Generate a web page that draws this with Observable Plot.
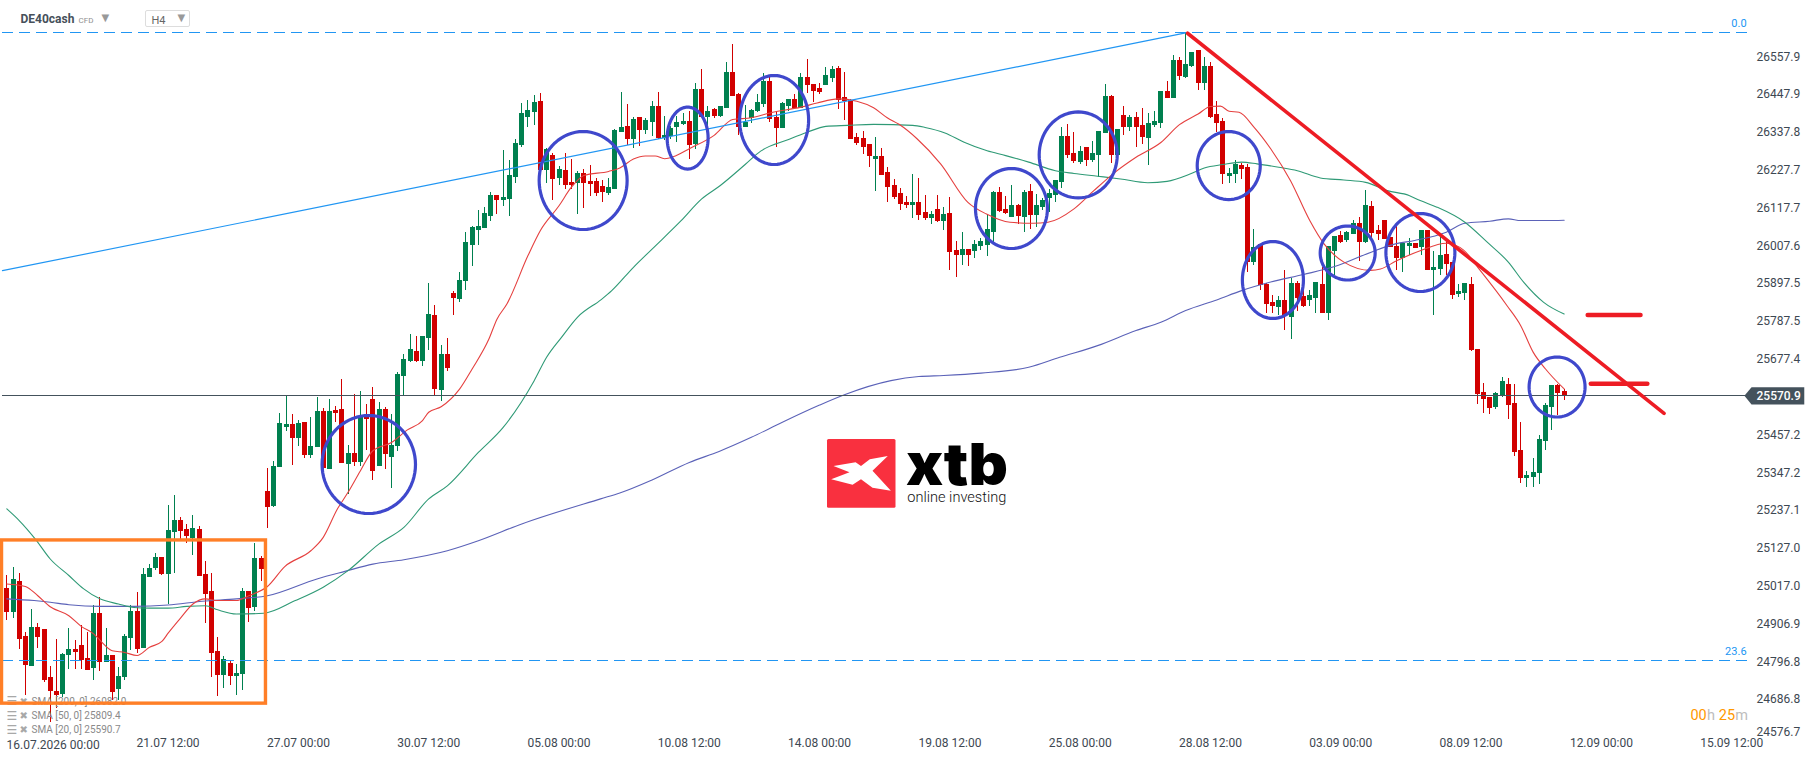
<!DOCTYPE html>
<html>
<head>
<meta charset="utf-8">
<script src="https://cdn.jsdelivr.net/npm/d3@7"></script>
<script src="https://cdn.jsdelivr.net/npm/@observablehq/plot@0.6"></script>
<style>
html,body{margin:0;padding:0;background:#fff;font-family:Roboto,sans-serif}
#wrap{position:relative;width:1816px;height:761px;overflow:hidden}
#wrap svg.main{display:block}
.abs{position:absolute}
</style>
</head>
<body>
<div id="wrap"></div>
<script>
const open = [
25009,24941,25030,24870,24783,24896,24890,24751,24710,24701,
24815,24832,24844,24806,24777,24937,24794,24815,24716,24751,
24864,24943,24835,25042,25068,25100,25050,25173,25208,25181,
25155,25181,25050,25001,24826,24757,24791,24754,24759,25001,
24954,25097,25292,25248,25363,25478,25487,25446,25493,25397,
25420,25525,25356,25528,25531,25370,25402,25376,25516,25560,
25365,25531,25391,25423,25627,25670,25699,25670,25737,25804,
25586,25691,25868,25851,25903,26008,26052,26057,26092,26153,
26139,26142,26206,26299,26380,26395,26427,26226,26270,26203,
26226,26191,26188,26217,26194,26194,26180,26159,26171,26337,
26354,26316,26380,26342,26366,26412,26320,26326,26352,26361,
26369,26302,26462,26381,26404,26384,26407,26512,26448,26352,
26378,26398,26419,26486,26381,26349,26413,26433,26407,26497,
26477,26465,26474,26494,26524,26439,26430,26323,26320,26302,
26259,26267,26221,26183,26160,26134,26125,26134,26104,26087,
26113,26078,26101,25993,25979,25996,25991,26005,26008,26046,
26162,26113,26090,26124,26090,26165,26095,26119,26145,26154,
26191,26325,26276,26250,26293,26255,26270,26334,26442,26270,
26386,26351,26381,26357,26319,26357,26363,26456,26436,26547,
26497,26529,26576,26480,26529,26389,26369,26209,26215,26241,
26235,25959,26011,25895,25842,25828,25848,25799,25898,25860,
25848,25854,25895,25810,25991,26037,26023,26040,26072,26017,
26122,26052,26081,26031,26005,25970,26005,26014,26002,26052,
25935,25938,25982,25959,25865,25868,25895,25705,25580,25566,
25537,25569,25604,25548,25411,25330,25333,25345,25438,25537,25601,25583];
const close = [
24941,25036,24861,24786,24896,24867,24742,24710,24698,24818,
24832,24823,24800,24771,24937,24794,24815,24707,24754,24870,
24943,24832,25050,25068,25100,25050,25178,25208,25176,25161,
25184,25045,24992,24821,24757,24803,24754,24762,25001,24952,
25097,25065,25245,25365,25490,25487,25446,25490,25397,25423,
25525,25359,25525,25519,25373,25402,25376,25507,25501,25350,
25531,25400,25426,25632,25676,25705,25670,25743,25807,25589,
25691,25650,25854,25906,26017,26060,26063,26101,26153,26139,
26148,26212,26305,26392,26401,26424,26226,26289,26200,26229,
26182,26182,26217,26188,26185,26159,26162,26177,26342,26351,
26316,26375,26342,26372,26412,26319,26329,26349,26366,26369,
26299,26462,26381,26398,26384,26413,26512,26442,26352,26366,
26401,26425,26486,26375,26349,26422,26433,26407,26497,26474,
26457,26454,26503,26521,26430,26427,26317,26305,26294,26267,
26267,26212,26177,26148,26128,26125,26134,26096,26087,26099,
26078,26098,25988,25979,25996,25979,26011,26020,26055,26162,
26107,26101,26124,26092,26162,26095,26124,26139,26159,26197,
26325,26270,26252,26282,26255,26276,26340,26442,26270,26346,
26351,26381,26351,26322,26363,26369,26456,26436,26547,26500,
26535,26570,26480,26529,26381,26363,26215,26218,26244,26229,
25959,26002,25892,25837,25831,25848,25802,25898,25854,25831,
25863,25901,25810,26005,26034,26017,26046,26072,26017,26125,
26043,26040,26026,26002,25970,26014,26014,25999,26052,25935,
25944,25979,25953,25863,25874,25897,25702,25574,25560,25534,
25577,25612,25542,25406,25330,25339,25347,25444,25542,25601,25577,25571];
const high = [
25048,25070,25055,24883,24948,24907,24892,24783,24861,24822,
24893,24860,24902,24883,24960,24985,24893,24815,24781,24876,
24960,24998,25068,25081,25111,25100,25251,25280,25216,25196,
25222,25190,25088,25053,24867,24812,24800,24790,25010,25001,
25141,25103,25359,25379,25519,25570,25516,25498,25493,25507,
25565,25533,25560,25539,25618,25426,25574,25583,25545,25595,
25551,25536,25516,25638,25691,25749,25743,25743,25897,25833,
25717,25737,25874,25929,26046,26063,26110,26118,26162,26153,
26284,26255,26316,26421,26430,26444,26450,26290,26276,26238,
26276,26258,26223,26229,26241,26203,26197,26203,26345,26453,
26418,26380,26380,26377,26427,26453,26384,26355,26384,26393,
26398,26480,26521,26413,26407,26413,26541,26593,26451,26416,
26404,26448,26509,26500,26398,26425,26433,26448,26509,26550,
26477,26480,26526,26529,26529,26512,26433,26334,26340,26302,
26323,26291,26235,26201,26174,26151,26215,26203,26154,26107,
26154,26119,26148,26020,26046,25996,26023,26028,26095,26165,
26177,26151,26183,26127,26168,26186,26156,26145,26171,26197,
26351,26360,26337,26296,26293,26311,26340,26477,26445,26346,
26413,26386,26395,26407,26392,26398,26456,26485,26561,26555,
26624,26570,26576,26555,26541,26427,26378,26232,26256,26247,
26244,26055,26011,25898,25863,25860,25935,25912,25903,25889,
25877,25901,25944,26005,26034,26049,26049,26081,26090,26168,
26136,26066,26081,26031,26066,26014,26028,26014,26052,26052,
25991,26037,26020,25959,25895,25897,25915,25705,25606,25566,
25580,25624,25621,25604,25493,25350,25388,25455,25548,25601,25604,25589];
const low = [
24917,24923,24834,24698,24783,24836,24737,24621,24660,24694,
24774,24774,24774,24771,24742,24769,24794,24684,24684,24742,
24831,24820,24835,25041,25062,25048,24963,25053,25149,25140,
25106,25045,24907,24752,24695,24718,24727,24698,24713,24911,
24943,25030,25185,25246,25363,25466,25368,25423,25388,25388,
25420,25353,25356,25493,25373,25285,25365,25365,25411,25324,
25365,25356,25301,25408,25571,25667,25667,25656,25702,25571,
25554,25641,25804,25842,25877,25947,26008,26057,26078,26098,
26121,26092,26188,26293,26351,26357,26226,26188,26139,26182,
26171,26171,26098,26116,26150,26150,26133,26153,26171,26337,
26299,26290,26296,26331,26325,26316,26314,26317,26308,26358,
26259,26288,26381,26352,26378,26381,26407,26442,26329,26352,
26363,26395,26410,26366,26294,26349,26398,26404,26407,26451,
26425,26448,26474,26483,26404,26372,26317,26299,26273,26235,
26166,26212,26134,26142,26110,26116,26087,26081,26081,26070,
26075,26052,25935,25915,25950,25947,25970,25993,25976,26017,
26104,26098,26090,26069,26046,26055,26060,26110,26104,26133,
26174,26261,26247,26244,26238,26250,26206,26334,26247,26270,
26328,26340,26293,26302,26241,26351,26349,26436,26436,26488,
26494,26526,26459,26459,26378,26337,26186,26189,26189,26200,
25930,25950,25877,25810,25810,25805,25761,25735,25816,25828,
25831,25810,25810,25790,25921,26014,26017,26040,25962,26014,
26017,26023,26026,26002,25935,25929,25979,25999,25979,25935,
25804,25921,25921,25851,25857,25848,25700,25545,25519,25516,
25531,25566,25502,25394,25315,25304,25304,25313,25411,25470,25513,25557];

const sma20Bar = [0,3,5,7,10,12,14,15,17,19,21,23,25,26,28,30,32,34,37,39,42,44.8,49,51,53.3,55,57,59,62,64.5,67,68,70,73,75,77.7,79,80.6,84,86,89,91,93,97,98.8,101,102.9,104.5,106,107.9,110,114,117,120,123,128,130.6,134,137,139.7,141.9,143.8,146.7,150.5,154.9,157.9,161.7,165.4,167.8,172,175.2,178.3,182,186,189,192,194,195.6,197,198.6,201,203.7,206.9,210,212.3,215.5,219.8,221.4,224,227.8,232,234.8,237.5,241.8,244,246,248,251];
const sma20Val = [25023,25016,24989,24957,24931,24900,24878,24860,24829,24824,24815,24839,24856,24880,24924,24965,24980,24975,24975,24989,25016,25074,25120,25159,25242,25290,25353,25411,25435,25471,25499,25523,25539,25591,25649,25736,25794,25838,25979,26052,26124,26178,26212,26224,26234,26260,26269,26269,26261,26270,26290,26329,26375,26380,26394,26411,26423,26435,26428,26409,26380,26361,26319,26246,26134,26100,26076,26073,26076,26115,26168,26217,26265,26308,26360,26391,26413,26414,26399,26396,26353,26290,26197,26081,26013,25960,25936,25940,25964,25993,26015,25995,25935,25833,25775,25698,25649,25591];

const sma50Bar = [0,2,4.6,7,10,12.4,15,18,20.5,23,26,29,32,34,37,41.4,46.5,51,55,60,64,68,71,76,80,85,87,89.4,92,95.8,97.5,101,104,108.6,112,115,119,121.5,126,129,132,135.5,139.7,146,148,151.2,154.3,158,161,164.7,169,172,175.8,179.5,183.9,187,190.8,193,196,199,201.5,205,208,211.7,215.5,219,222.5,226,227.8,230.5,235,238.6,242,244.5,247.7,251];
const sma50Val = [25242,25208,25154,25096,25048,25009,24980,24965,24955,24953,24953,24958,24960,24948,24936,24938,24975,25014,25062,25140,25188,25271,25309,25406,25479,25615,25683,25741,25800,25851,25877,25945,25998,26079,26144,26183,26244,26283,26317,26338,26355,26358,26361,26358,26352,26336,26309,26284,26270,26251,26226,26218,26210,26202,26191,26195,26217,26234,26244,26251,26246,26236,26226,26205,26199,26192,26168,26154,26139,26120,26076,26018,25960,25901,25843,25809];

const sma200Bar = [0,4.4,7,10,15,20.5,26,31.5,37,42,50,54.5,59,64,71,76,83,95.7,98.8,104,110,114.8,120,125,131,135,142.5,147,151,157,164.7,169.7,175.8,182,186,190,195,199,203.7,209,214,219.9,223.8,226.9,232,235,239,242,244,248,251];
const sma200Val = [24980,24975,24970,24963,24958,24958,24962,24973,24980,24989,25038,25060,25081,25094,25120,25149,25198,25271,25288,25326,25377,25409,25450,25494,25544,25574,25615,25627,25630,25637,25654,25683,25717,25761,25785,25819,25850,25877,25902,25924,25947,25989,26013,26023,26047,26073,26079,26086,26081,26081,26082];

const priceTicks = [26557.9,26447.9,26337.8,26227.7,26117.7,26007.6,25897.5,25787.5,25677.4,25457.2,25347.2,25237.1,25127.0,25017.0,24906.9,24796.8,24686.8];
const lastTick = 24576.7;
const lastPrice = 25570.9;
const fibLevels = [26627, 24802];
const fibLabels = ["0.0", "23.6"];
const timeTicks = [26,47,68,89,110,131,152,173,194,215,236,257,278];
const timeLabels = ["21.07 12:00","27.07 00:00","30.07 12:00","05.08 00:00","10.08 12:00","14.08 00:00","19.08 12:00","25.08 00:00","28.08 12:00","03.09 00:00","08.09 12:00","12.09 00:00","15.09 12:00"];
const legendLabels = ["SMA [200, 0] 26082.0","SMA [50, 0] 25809.4","SMA [20, 0] 25590.7"];

const riseLine = [{b:-0.7,p:25935},{b:190,p:26627}];
const fallLine = [{b:190.3,p:26626},{b:267.1,p:25520}];
const levelMarks = [{b1:254.8,b2:263.3,p:25806},{b1:255.3,b2:264.4,p:25606}];
const boxMark = [{b1:-0.77,b2:41.77,p1:25150,p2:24675}];
const ringBar = [58.34,92.89,109.73,123.67,161.92,172.68,196.94,204.06,216.11,227.83,249.86];
const ringBarR = [7.53,7.09,3.30,5.56,5.80,6.29,5.08,4.92,4.43,5.56,4.51];
const ringPrice = [25371,26197.5,26321,26373.6,26116,26272,26241,25908,25986.5,25988,25596.5];
const ringPriceR = [142.6,142.6,90.2,129.5,116.4,125.1,99,112,78.6,113.5,87.3];

const RED="#d10000", GREEN="#00804f", INK="#3d4852", BLUE="#2196f3", RING="#3f48cc", TRED="#ed1c24";
const bars = d3.range(open.length).map(i => ({i, o:open[i], c:close[i], h:high[i], l:low[i], col: close[i]>=open[i]?GREEN:RED}));
const series = (xs,ys) => xs.map((b,i)=>({b,p:ys[i]}));
const ringPts = ringBar.flatMap((b,k)=>d3.range(0,72).map(t=>({k,b:b+ringBarR[k]*Math.cos(t*Math.PI/36),p:ringPrice[k]+ringPriceR[k]*Math.sin(t*Math.PI/36)})));
const tag = [{b:280.05,p:lastPrice},{b:281.2,p:lastPrice+25},{b:289.7,p:lastPrice+25},{b:289.7,p:lastPrice-25},{b:281.2,p:lastPrice-25}];

const uiText = (txt,dx,dy,o={}) => Plot.text([txt],{text:d=>d,frameAnchor:"top-left",dx,dy,textAnchor:"start",lineAnchor:"middle",...o});

const chart = Plot.plot({
  width:1816, height:761,
  marginTop:0, marginRight:60, marginBottom:26, marginLeft:0,
  style:{fontFamily:"Roboto, sans-serif", background:"#fff", overflow:"visible"},
  x:{domain:[-1.015,282], axis:null},
  y:{domain:[24582.3,26721.4], axis:null},
  marks:[
    Plot.axisY(priceTicks,{anchor:"right",tickSize:0,tickPadding:0,textAnchor:"start",label:null,tickFormat:d=>d.toFixed(1),fontSize:12,fill:INK}),
    Plot.axisX(timeTicks,{anchor:"bottom",tickSize:0,tickPadding:3,label:null,tickFormat:d=>timeLabels[timeTicks.indexOf(d)],fontSize:12,fill:INK}),
    Plot.text([lastTick],{x:()=>282,y:d=>d,text:d=>d.toFixed(1),dy:-5,textAnchor:"start",fontSize:12,fill:INK}),
    uiText("16.07.2026 00:00",6,744.5,{fontSize:12,fill:INK}),
    // candles
    Plot.ruleX(bars,{x:"i",y1:"l",y2:"h",stroke:"col",strokeWidth:1,shapeRendering:"crispEdges"}),
    Plot.ruleX(bars,{x:"i",y1:"o",y2:"c",stroke:"col",strokeWidth:5,shapeRendering:"crispEdges"}),
    // moving averages
    Plot.line(series(sma200Bar,sma200Val),{x:"b",y:"p",stroke:"#5b62b8",strokeWidth:1.1,curve:"monotone-x"}),
    Plot.line(series(sma50Bar,sma50Val),{x:"b",y:"p",stroke:"#2f9a76",strokeWidth:1.1,curve:"monotone-x"}),
    Plot.line(series(sma20Bar,sma20Val),{x:"b",y:"p",stroke:"#e5403f",strokeWidth:1.1,curve:"monotone-x"}),
    // levels
    Plot.ruleY(fibLevels,{x1:-0.7,x2:280.6,stroke:BLUE,strokeWidth:1,strokeDasharray:"11,6",shapeRendering:"crispEdges"}),
    Plot.ruleY([lastPrice],{x1:-0.7,x2:281,stroke:"#44525c",strokeWidth:1,shapeRendering:"crispEdges"}),
    Plot.line(riseLine,{x:"b",y:"p",stroke:BLUE,strokeWidth:1.2}),
    Plot.line(tag,{x:"b",y:"p",fill:"#44525c",stroke:"none",curve:"linear-closed"}),
    Plot.text([lastPrice],{x:()=>282,y:d=>d,text:d=>d.toFixed(1),textAnchor:"start",fontSize:12,fill:"#fff",fontWeight:500}),
    Plot.text(fibLevels,{x:()=>280.4,y:d=>d,text:(d,i)=>fibLabels[i],dy:-9,textAnchor:"end",fontSize:11,fill:BLUE}),
    // SMA legend under the box
    ...legendLabels.flatMap((s,i)=>[
      uiText("☰",6,701+i*14.2,{fontSize:12,fill:"#a8a8a8",fontFamily:"DejaVu Sans"}),
      uiText("✖",19,701+i*14.2,{fontSize:10,fill:"#a8a8a8",fontFamily:"DejaVu Sans"}),
      uiText(s,31,701+i*14.2,{fontSize:10,fill:"#8a8a8a"})
    ]),
    // annotations
    Plot.rect(boxMark,{x1:"b1",x2:"b2",y1:"p1",y2:"p2",fill:"none",stroke:"#ff7f27",strokeWidth:3.4}),
    Plot.line(ringPts,{x:"b",y:"p",z:"k",stroke:RING,strokeWidth:3.2,curve:"linear-closed"}),
    Plot.line(fallLine,{x:"b",y:"p",stroke:TRED,strokeWidth:3.6,strokeLinecap:"round"}),
    Plot.link(levelMarks,{x1:"b1",x2:"b2",y1:"p",y2:"p",stroke:TRED,strokeWidth:4.6,strokeLinecap:"round"}),
    // instrument header
    uiText("DE40cash",20,19,{fontSize:12,fontWeight:700,fill:"#46505a"}),
    uiText("CFD",78,20,{fontSize:8,fill:"#8f8f8f"}),
    uiText("▼",101,17,{fontSize:10,fill:"#999",fontFamily:"DejaVu Sans"}),
    uiText("H4",151,19.5,{fontSize:11,fill:"#666"}),
    uiText("▼",177,17,{fontSize:10,fill:"#999",fontFamily:"DejaVu Sans"})
  ]
});
chart.classList.add("main");
const wrap = document.getElementById("wrap");
wrap.appendChild(chart);

wrap.insertAdjacentHTML("beforeend",`
<div class="abs" style="left:145px;top:10px;width:43px;height:15px;border:1px solid #ddd;border-radius:2px"></div>
<div class="abs" style="right:68px;top:707px;font:14.5px Roboto,sans-serif;letter-spacing:.1px;color:#bdbdbd;white-space:nowrap"><span style="color:#ff9800">00</span>h <span style="color:#ff9800">25</span>m</div>
<svg class="abs" style="left:820px;top:430px" width="200" height="90" viewBox="820 430 200 90">
  <rect x="827" y="439" width="68.5" height="68.7" rx="1.5" fill="#f9303f"/>
  <polygon fill="#fff" points="833.5,466 855.6,462.3 861,466 869.8,459.3 887.8,456 872.5,470.7 890.9,490.7 872.5,487.7 861,479.3 852.6,484.7 831.2,479.3 849.5,472.3"/>
  <text x="906" y="485" font-family="Inter, 'Liberation Sans', sans-serif" font-weight="900" font-size="58" textLength="102" lengthAdjust="spacingAndGlyphs" fill="#000">xtb</text>
  <text x="907.3" y="502" font-family="Roboto, sans-serif" font-weight="300" font-size="15.5" textLength="99" lengthAdjust="spacingAndGlyphs" fill="#111">online investing</text>
</svg>`);
</script>
</body>
</html>
